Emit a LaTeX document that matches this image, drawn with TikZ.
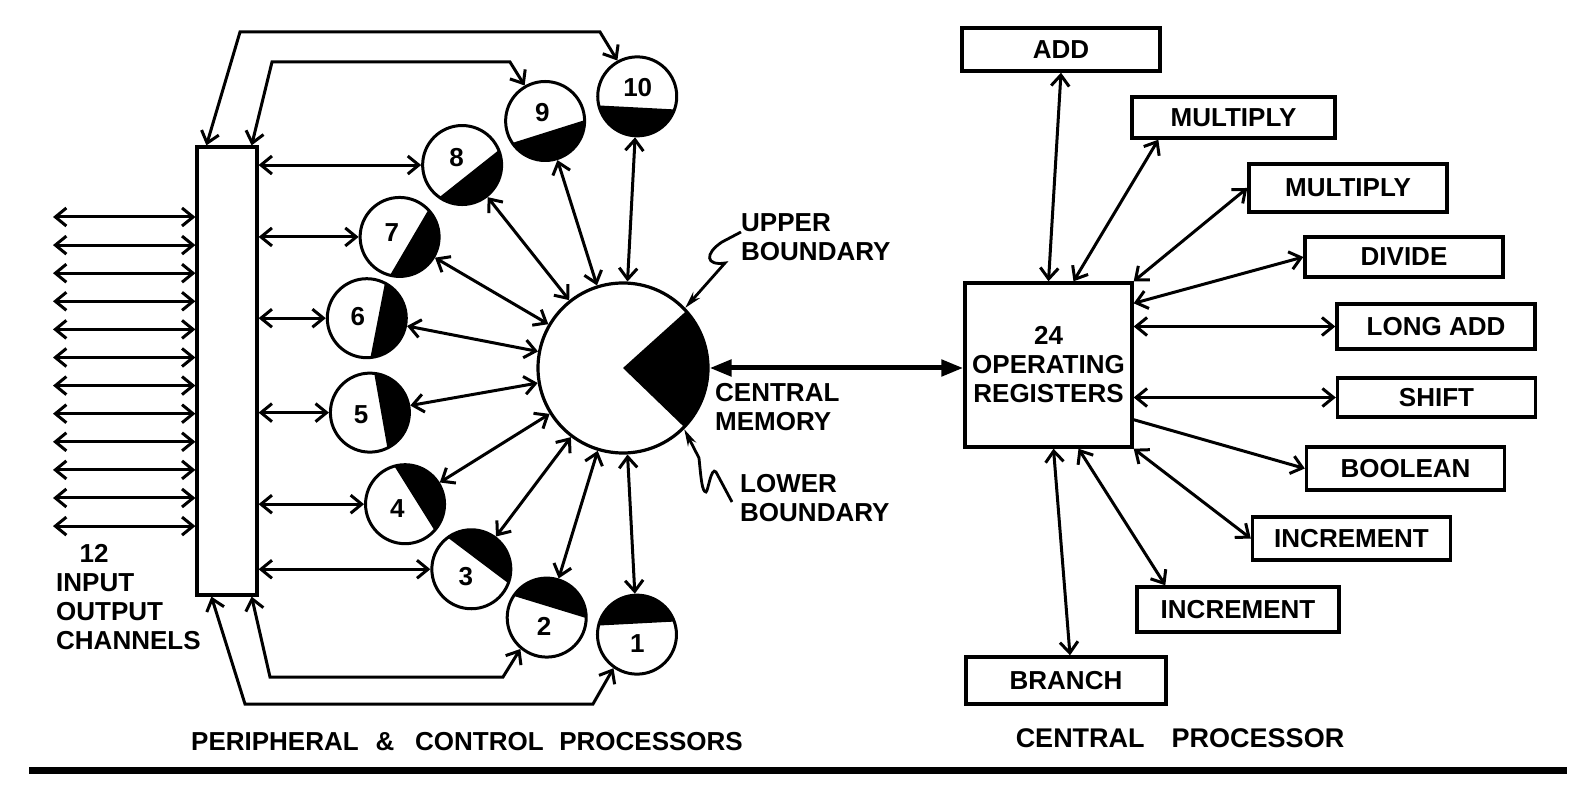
\documentclass[tikz,border=0pt]{standalone}
\usepackage{fontspec}
\setmainfont{Liberation Sans}
\usetikzlibrary{arrows.meta,calc}

\tikzset{
  lbl/.style={font=\fontsize{26}{29}\selectfont\bfseries, inner sep=0pt},
  ppu/.style={circle, draw, line width=3pt, minimum size=79pt, inner sep=0pt},
  opbox/.style={draw, line width=3.4pt, minimum width=198pt, minimum height=43pt, inner sep=0pt, font=\fontsize{26}{29}\selectfont\bfseries},
  link/.style={line width=3pt, <->},
  lead/.style={line width=3pt, ->},
  pointer/.style={line width=2.8pt, -{Stealth[length=17pt,width=9pt]}},
}

\begin{document}
\begin{tikzpicture}[x=1pt, y=1pt, >={Straight Barb[length=11pt,width=18pt]}]
\useasboundingbox (0,0) rectangle (1588,788);

% central memory
\node[circle, draw, line width=3.2pt, minimum size=170pt, inner sep=0pt] (cm) at (623,420) {};
\fill (cm.center) -- ++(-44:85) arc[start angle=-44, end angle=42, radius=85] -- cycle;

% peripheral and control processors
\foreach \k/\a/\d in {1/273/267, 2/253/261, 3/233/252, 4/212/257, 5/190/257,
                      6/169/261, 7/149.6/259, 8/128.4/259, 9/107.5/259, 10/87/272}{
  \node[ppu] (p\k) at ($(cm)+(\a:\d)$) {};
  \fill (p\k.center) ++(\a+106.3:39.5) arc[start angle=\a+106.3, end angle=\a+253.7, radius=39.5] -- cycle;
  \node[lbl] at ($(p\k)+(\a:9)$) {\k};
  \draw[link] (p\k) -- (cm);
}

\node[draw, line width=3.2pt, minimum width=60pt, minimum height=448pt, inner sep=0pt] (bar) at (227,417) {};
\foreach \i in {0,...,11}{
  \coordinate (ch\i) at (53,{571-28.1*\i});
  \draw[link] (ch\i) -- (ch\i -| bar.west);
}
\foreach \k in {3,...,8}
  \draw[link] (bar.east |- p\k) -- (p\k);

\draw[link] ([xshift=11pt]bar.north west) -- (240,756) -- (600,756) -- (p10.119);
\draw[link] ([xshift=-7pt]bar.north east) -- (272,726) -- (510,726) -- (p9.120);
\draw[link] ([xshift=16pt]bar.south west) -- (245,84) -- (593,84) -- (p1.235);
\draw[link] ([xshift=-7pt]bar.south east) -- (270,111) -- (503,111) -- (p2.230);

\node[lbl, align=left, anchor=west] (io) at (56,191) {\hspace*{0.9em}12\\INPUT\\OUTPUT\\CHANNELS};
\node[lbl, align=left, anchor=west] (ub) at (741,551) {UPPER\\BOUNDARY};
\node[lbl, align=left, anchor=west] (mem) at (715,381) {CENTRAL\\MEMORY};
\node[lbl, align=left, anchor=west] (lb) at (740,290) {LOWER\\BOUNDARY};

\draw[pointer] ([yshift=5pt]ub.west) -- (722,546) .. controls (704,534) and (706,522) .. (725,525) -- (cm.44);
\draw[pointer] ([xshift=-8pt,yshift=-4pt]lb.west) -- (716,316) .. controls (711,322) and (708,296) .. (706,296)
  .. controls (702,296) and (701,310) .. (699,330) -- (cm.-45);

% central processor
\node[draw, line width=3.4pt, minimum width=167pt, minimum height=164pt, align=center, lbl] (regs) at (1048.5,423) {24\\OPERATING\\REGISTERS};
\draw[line width=5pt, {Triangle[length=22pt,width=16pt]}-{Triangle[length=22pt,width=16pt]}] (cm.east) -- (cm.east -| regs.west);

\node[opbox] (add) at (1061,738.5) {ADD};
\node[opbox, minimum width=203pt, minimum height=41pt] (mul1) at (1233.5,670.5) {MULTIPLY};
\node[opbox, minimum height=48pt] (mul2) at (1348,600) {MULTIPLY};
\node[opbox, minimum height=40pt] (div) at (1404,531) {DIVIDE};
\node[opbox, minimum height=45pt] (ladd) at (1436,461.5) {LONG ADD};
\node[opbox, minimum height=39pt] (shf) at (1436.5,390.5) {SHIFT};
\node[opbox] (bool) at (1405.5,319.5) {BOOLEAN};
\node[opbox] (incA) at (1351.5,249.5) {INCREMENT};
\node[opbox, minimum width=202pt, minimum height=45pt] (incB) at (1238,178.5) {INCREMENT};
\node[opbox, minimum width=200pt, minimum height=47pt] (branch) at (1066,107.5) {BRANCH};

\draw[link] (regs.north) -- (add.south);
\draw[link] ([xshift=25pt]regs.north) -- ([xshift=28pt]mul1.south west);
\draw[link] (regs.north east) -- (mul2.west);
\draw[link] ([yshift=-22pt]regs.north east) -- (div.west);
\draw[link] (ladd.west -| regs.east) -- (ladd.west);
\draw[link] (shf.west -| regs.east) -- (shf.west);
\draw[lead] ([yshift=29pt]regs.south east) -- (bool.west);
\draw[link] (regs.south east) -- (incA.west);
\draw[link] ([xshift=30pt]regs.south) -- ([xshift=30pt]incB.north west);
\draw[link] ([xshift=5pt]regs.south) -- ([xshift=4pt]branch.north);

\node[lbl] (ttlA) at (467,46) {PERIPHERAL\hspace{0.65em}\&\hspace{0.8em}CONTROL\hspace{0.6em}PROCESSORS};
\node[lbl, font=\fontsize{27}{29}\selectfont\bfseries] (ttlB) at (1180,50) {CENTRAL\hspace{1em}PROCESSOR};
\fill (29,14) rectangle (1567,21);
\end{tikzpicture}
\end{document}
